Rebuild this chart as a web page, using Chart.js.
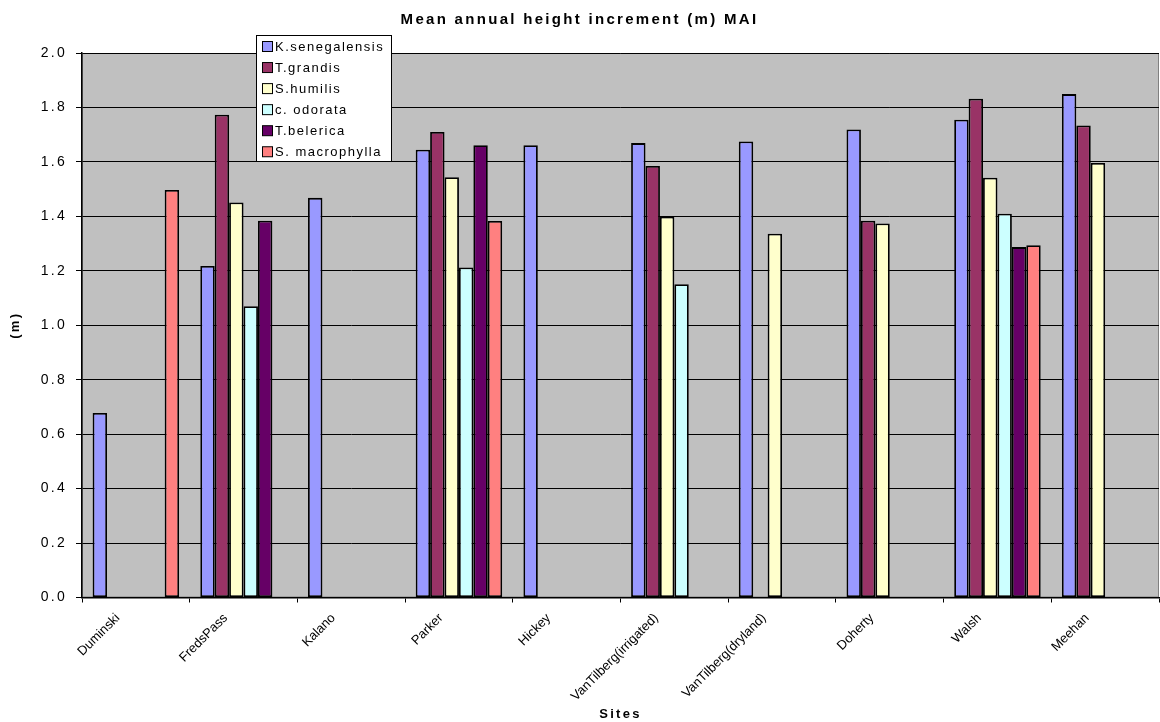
<!DOCTYPE html>
<html>
<head>
<meta charset="utf-8">
<script src="https://cdn.jsdelivr.net/npm/chart.js@4"></script>
<style>
  html, body { margin: 0; padding: 0; background: #fff; }
</style>
</head>
<body>
<canvas id="maiChart" width="1160" height="722"></canvas>
<script>
// Sites (x axis)
const sites = ['Duminski', 'FredsPass', 'Kalano', 'Parker', 'Hickey',
  'VanTilberg(irrigated)', 'VanTilberg(dryland)', 'Doherty', 'Walsh', 'Meehan'];

// Species (legend) and their colours
const species = ['K.senegalensis', 'T.grandis', 'S.humilis', 'c. odorata', 'T.belerica', 'S. macrophylla'];
const colours = ['#9999FF', '#993366', '#FFFFCC', '#CCFFFF', '#660066', '#FF8080'];

// MAI (m) per species, one value per site, null = no trees there
const kSenegalensis = [0.678, 1.218, 1.468, 1.645, 1.661, 1.669, 1.675, 1.719, 1.755, 1.849];
const tGrandis      = [null, 1.773, null, 1.710, null, 1.585, null, 1.384, 1.832, 1.734];
const sHumilis      = [null, 1.451, null, 1.544, null, 1.399, 1.336, 1.374, 1.542, 1.596];
const cOdorata      = [null, 1.070, null, 1.212, null, 1.151, null, null, 1.410, null];
const tBelerica     = [null, 1.384, null, 1.661, null, null, null, null, 1.287, null];
const sMacrophylla  = [1.497, null, null, 1.383, null, null, null, null, 1.294, null];

// y axis ticks
const yMin = 0, yMax = 2.0, yStep = 0.2;

const fontFamily = 'Arial, "Liberation Sans", sans-serif';
const seriesValues = [kSenegalensis, tGrandis, sHumilis, cOdorata, tBelerica, sMacrophylla];

// Grey plot area + spaced text like the Excel export
const plotBackground = {
    id: 'plotBackground',
    beforeDraw(chart) {
        const { ctx, chartArea: a } = chart;
        ctx.letterSpacing = '2.3px';
        ctx.save();
        ctx.fillStyle = '#C0C0C0';
        ctx.fillRect(a.left, a.top, a.right - a.left, a.bottom - a.top);
        ctx.strokeStyle = '#808080';
        ctx.lineWidth = 1;
        ctx.strokeRect(a.left + 0.5, a.top + 0.5, a.right - a.left - 1, a.bottom - a.top - 1);
        ctx.restore();
    },
    // rotated x labels are drawn after the bars; spacing breaks rotated text
    afterDatasetsDraw(chart) {
        chart.ctx.letterSpacing = '0px';
    }
};

// Boxed legend sitting over the plot
const boxLegend = {
    id: 'boxLegend',
    afterDraw(chart) {
        const ctx = chart.ctx;
        ctx.save();
        ctx.letterSpacing = '1.5px';
        ctx.fillStyle = '#fff';
        ctx.fillRect(256.5, 35.5, 135, 126);
        ctx.strokeStyle = '#000';
        ctx.lineWidth = 1;
        ctx.strokeRect(256.5, 35.5, 135, 126);
        ctx.font = '13px ' + fontFamily;
        ctx.textBaseline = 'middle';
        chart.data.datasets.forEach(function(ds, i) {
            const cy = 46.5 + i * 21.05;
            ctx.fillStyle = ds.backgroundColor;
            ctx.fillRect(262.5, cy - 5, 10, 10);
            ctx.strokeRect(262.5, cy - 5, 10, 10);
            ctx.fillStyle = '#000';
            ctx.fillText(ds.label, 275, cy + 0.5);
        });
        ctx.restore();
    }
};

const ctx = document.getElementById('maiChart').getContext('2d');
const maiChart = new Chart(ctx, {
    type: 'bar',
    data: {
        labels: sites,
        datasets: seriesValues.map(function(vals, i) {
            return {
                label: species[i],
                data: vals,
                backgroundColor: colours[i],
                borderColor: '#000',
                borderWidth: 1.8,
                borderSkipped: false,
                categoryPercentage: 0.803,
                barPercentage: 1
            };
        })
    },
    options: {
        responsive: false,
        animation: false,
        layout: { padding: { top: 0, right: 1, bottom: 0, left: 0 } },
        plugins: {
            legend: { display: false },
            tooltip: { enabled: false },
            title: {
                display: true,
                text: 'Mean annual height increment (m) MAI',
                color: '#000',
                font: { family: fontFamily, size: 15, weight: 'bold' },
                padding: { top: 11, bottom: 24 }
            }
        },
        scales: {
            x: {
                grid: { display: true, drawOnChartArea: false, drawTicks: true, tickLength: 5, color: '#000', offset: true },
                border: { display: true, color: '#000', width: 1.5 },
                ticks: {
                    z: 1,
                    autoSkip: false, minRotation: 45, maxRotation: 45,
                    color: '#000', font: { family: fontFamily, size: 13 },
                    labelOffset: -18, padding: 8
                },
                title: {
                    display: true, text: 'Sites', color: '#000',
                    font: { family: fontFamily, size: 13, weight: 'bold' },
                    padding: { top: 0, bottom: 0 }
                },
                afterFit(scale) { scale.height = 124.5; }
            },
            y: {
                min: yMin, max: yMax,
                ticks: {
                    stepSize: yStep, color: '#000', padding: 9,
                    font: { family: fontFamily, size: 14 },
                    callback: function(v) { return v.toFixed(1); }
                },
                grid: { color: '#000', lineWidth: 1, tickLength: 6, drawTicks: true },
                border: { display: true, color: '#000', width: 1.5 },
                title: {
                    display: true, text: '(m)', color: '#000',
                    font: { family: fontFamily, size: 13, weight: 'bold' },
                    padding: { top: 8 }
                },
                afterFit(scale) { scale.width = 82; }
            }
        }
    },
    plugins: [plotBackground, boxLegend]
});
</script>
</body>
</html>
